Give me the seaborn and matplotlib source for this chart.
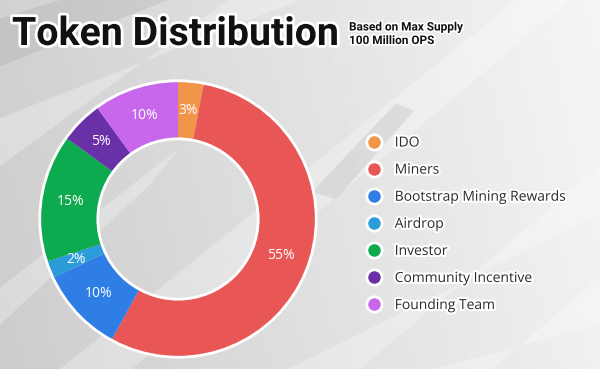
import numpy as np
import matplotlib.pyplot as plt
import matplotlib.patheffects as pe
from matplotlib.lines import Line2D
from matplotlib.patches import Circle, Polygon
import seaborn as sns

# données
categories = ['IDO', 'Miners', 'Bootstrap Mining Rewards', 'Airdrop', 'Investor',
              'Community Incentive', 'Founding Team']
parts = [3, 55, 10, 2, 15, 5, 10]
colors = ['#F1954A', '#E95656', '#2F7EE6', '#2C9BDA', '#0EAA4F', '#6A30A8', '#C866EC']

title = 'Token Distribution'
subtitle = 'Based on Max Supply\n100 Million OPS'

sns.set_theme(style='white')
plt.rcParams['font.family'] = ['Open Sans', 'DejaVu Sans']

fig = plt.figure(figsize=(6, 3.69), dpi=100)

# fond gris avec des reflets
bg = fig.add_axes([0, 0, 1, 1])
bg.set_xlim(0, 1)
bg.set_ylim(0, 1)
gx, gy = np.meshgrid(np.linspace(0, 1, 200), np.linspace(0, 1, 200))
grad = 0.80 + 0.14 * gx + 0.02 * gy
bg.imshow(grad, cmap='gray', vmin=0, vmax=1, extent=[0, 1, 0, 1], origin='lower', aspect='auto')
streaks = [
    [(0.0, 0.55), (0.0, 0.68), (0.50, 1.0), (0.38, 1.0)],
    [(0.10, 0.0), (0.22, 0.0), (0.95, 1.0), (0.86, 1.0)],
    [(0.48, 0.0), (0.60, 0.0), (1.0, 0.55), (1.0, 0.42)],
    [(0.0, 0.12), (0.0, 0.22), (0.30, 0.60), (0.25, 0.50)],
    [(0.72, 0.0), (0.82, 0.0), (1.0, 0.25), (1.0, 0.12)],
]
for s in streaks:
    bg.add_patch(Polygon(s, closed=True, facecolor='white', alpha=0.28, lw=0))
dark = [[(0.0, 0.82), (0.0, 0.95), (0.10, 1.0), (0.28, 1.0)],
        [(0.52, 0.48), (0.66, 0.72), (0.69, 0.70), (0.56, 0.46)]]
for s in dark:
    bg.add_patch(Polygon(s, closed=True, facecolor='#777777', alpha=0.14, lw=0))
bg.axis('off')

# donut
ax = fig.add_axes([37 / 600, 9 / 369, 282 / 600, 282 / 369])
wedges, texts, autotexts = ax.pie(
    parts, colors=colors, startangle=90, counterclock=False,
    radius=1, wedgeprops=dict(width=0.42, linewidth=0),
    autopct=lambda p: f'{p:.0f}%', pctdistance=0.79,
    textprops=dict(color='white', fontsize=10))
ax.add_patch(Circle((0, 0), 1.0, fill=False, edgecolor='white', lw=2))
ax.add_patch(Circle((0, 0), 0.58, fill=False, edgecolor='white', lw=2))
ax.set_xlim(-1.02, 1.02)
ax.set_ylim(-1.02, 1.02)
ax.axis('off')

stroke = [pe.withStroke(linewidth=4, foreground='white')]

# titre
fig.text(12 / 600, 1 - 45 / 369, title, fontsize=28.3, fontweight='bold',
         family=['Roboto', 'DejaVu Sans'], color='#111111', path_effects=stroke)
fig.text(349 / 600, 1 - 44 / 369, subtitle, fontsize=8.5, fontweight='bold',
         family=['Roboto', 'DejaVu Sans'], color='#111111', linespacing=1.05,
         path_effects=[pe.withStroke(linewidth=2.5, foreground='white')])

# légende
handles = [Line2D([], [], marker='o', linestyle='', markersize=11, markerfacecolor=c,
                  markeredgecolor='white', markeredgewidth=2) for c in colors]
leg = fig.legend(handles, categories, loc='upper left', bbox_to_anchor=(360 / 600, 1 - 130 / 369),
                 frameon=False, fontsize=10, labelspacing=0.87, handletextpad=0.9,
                 handlelength=1.2, borderaxespad=0)
for t in leg.get_texts():
    t.set_color('#2a2a2a')
    t.set_path_effects([pe.withStroke(linewidth=3, foreground='white')])

plt.savefig('out.png', dpi=100)
